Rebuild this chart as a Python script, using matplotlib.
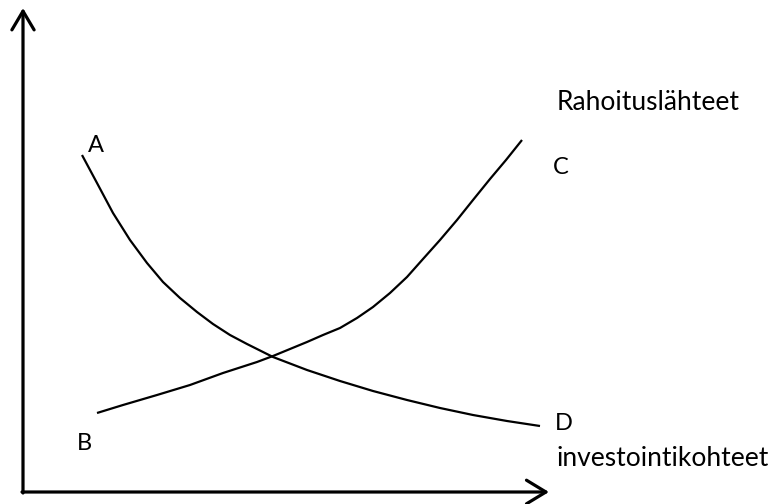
import matplotlib
matplotlib.use("Agg")
import matplotlib.pyplot as plt

# Curve A -> D (falling), screen pixel coords (y grows downwards)
ad_x = [82, 97, 113, 130, 147, 163, 180, 197, 213, 230, 247, 273, 307, 340, 373, 407, 440, 473, 507, 540]
ad_y = [155, 183, 213, 240, 263, 282, 298, 312, 324, 335, 344, 357, 370, 381, 391, 400, 408, 415, 421, 426]

# Curve B -> C (rising)
bc_x = [97, 123, 157, 190, 223, 257, 273, 290, 307, 323, 340, 357, 373, 390, 407, 423, 440, 457, 473, 490, 506, 522]
bc_y = [413, 405, 395, 385, 373, 362, 356, 349, 342, 335, 328, 318, 307, 293, 277, 259, 240, 220, 200, 179, 160, 140]

labels = ["A", "B", "C", "D"]
label_x = [96, 84, 561, 564]
label_y = [145, 443, 167, 424]

y_title = "Rahoituslähteet"
x_title = "investointikohteet"

plt.rcParams['font.family'] = ['Lato', 'DejaVu Sans']

fig = plt.figure(figsize=(7.81, 5.04), dpi=100)
ax = fig.add_axes([0, 0, 1, 1])
ax.set_xlim(0, 781)
ax.set_ylim(504, 0)
ax.axis('off')

# axes with open arrow heads
ax.annotate("", xy=(23, 8), xytext=(23, 493),
            arrowprops=dict(arrowstyle='->,head_length=1.35,head_width=0.8',
                            lw=2.3, color='black', shrinkA=0, shrinkB=0))
ax.annotate("", xy=(549, 492), xytext=(22, 492),
            arrowprops=dict(arrowstyle='->,head_length=1.4,head_width=0.85',
                            lw=2.3, color='black', shrinkA=0, shrinkB=0))

ax.plot(ad_x, ad_y, color='black', lw=1.6, solid_capstyle='butt', solid_joinstyle='round')
ax.plot(bc_x, bc_y, color='black', lw=1.6, solid_capstyle='butt', solid_joinstyle='round')

for lab, lx, ly in zip(labels, label_x, label_y):
    ax.text(lx, ly, lab, fontsize=17, ha='center', va='center')

ax.text(557, 103, y_title, fontsize=19, ha='left', va='center')
ax.text(557, 458, x_title, fontsize=19, ha='left', va='center')

fig.savefig("out.png", dpi=100)
